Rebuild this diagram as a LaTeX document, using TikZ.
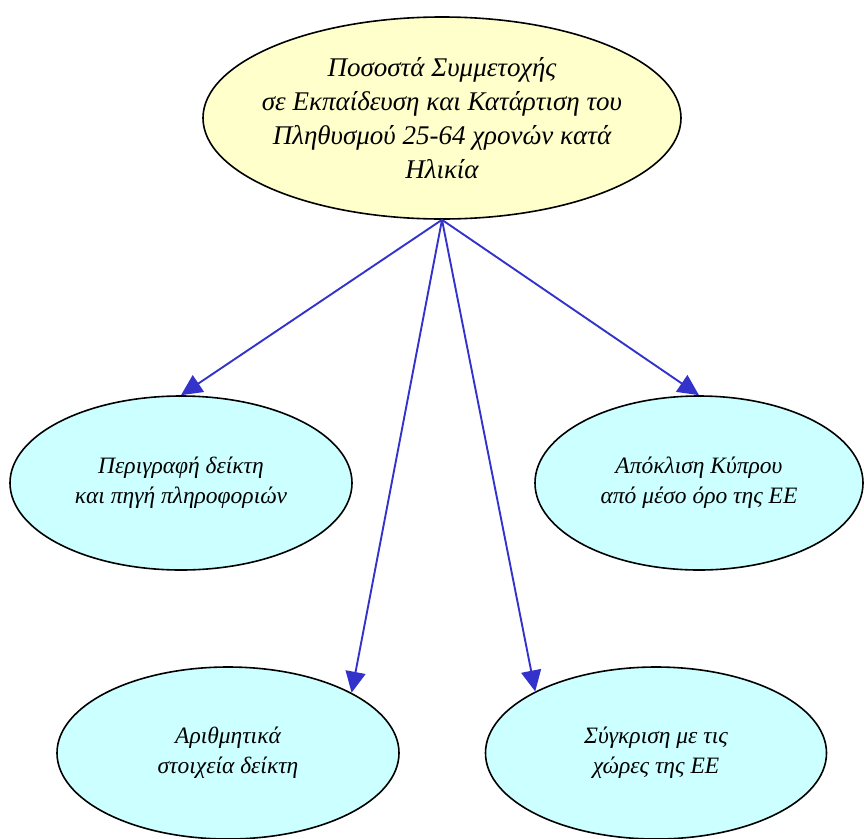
\documentclass[tikz,border=0pt]{standalone}
\usepackage{fontspec}
\setmainfont{Liberation Serif}
\usepackage{tikz}
\usetikzlibrary{arrows.meta, shapes.geometric}
\definecolor{kitrino}{HTML}{FFFFCC}
\definecolor{galazio}{HTML}{CCFFFF}
\definecolor{mple}{HTML}{3333CC}

\begin{document}
\begin{tikzpicture}[x=1pt, y=-1pt,
  komvos/.style={ellipse, draw=black, line width=1.6pt, inner sep=0pt, align=center,
    font=\itshape\fontsize{23.5}{30}\selectfont},
  velos/.style={-{Triangle[length=21pt, width=20pt]}, mple, line width=1.9pt}]
  \useasboundingbox (0,0) rectangle (864,838);

  % Kentrikos deiktis
  \node[komvos, fill=kitrino, minimum width=478pt, minimum height=202pt, inner xsep=-20pt,
    font=\itshape\fontsize{27}{34}\selectfont] (kentro) at (442,118)
    {Ποσοστά Συμμετοχής\\ σε Εκπαίδευση και Κατάρτιση του\\ Πληθυσμού 25-64 χρονών κατά\\ Ηλικία};

  % Mesaia seira
  \node[komvos, fill=galazio, minimum width=342pt, minimum height=174pt] (perigrafi) at (181,483)
    {Περιγραφή δείκτη\\ και πηγή πληροφοριών};
  \node[komvos, fill=galazio, minimum width=328pt, minimum height=174pt] (apoklisi) at (699,483)
    {Απόκλιση Κύπρου\\ από μέσο όρο της ΕΕ};

  % Kato seira
  \node[komvos, fill=galazio, minimum width=342pt, minimum height=172pt] (arithmitika) at (228,753)
    {Αριθμητικά\\ στοιχεία δείκτη};
  \node[komvos, fill=galazio, minimum width=341pt, minimum height=172pt] (sygkrisi) at (656,753)
    {Σύγκριση με τις\\ χώρες της ΕΕ};

  % Veli
  \draw[velos] (kentro.south) -- (perigrafi.north);
  \draw[velos] (kentro.south) -- (apoklisi.north);
  \draw[velos] (kentro.south) -- (arithmitika.26);
  \draw[velos] (kentro.south) -- (sygkrisi.153);
\end{tikzpicture}
\end{document}
